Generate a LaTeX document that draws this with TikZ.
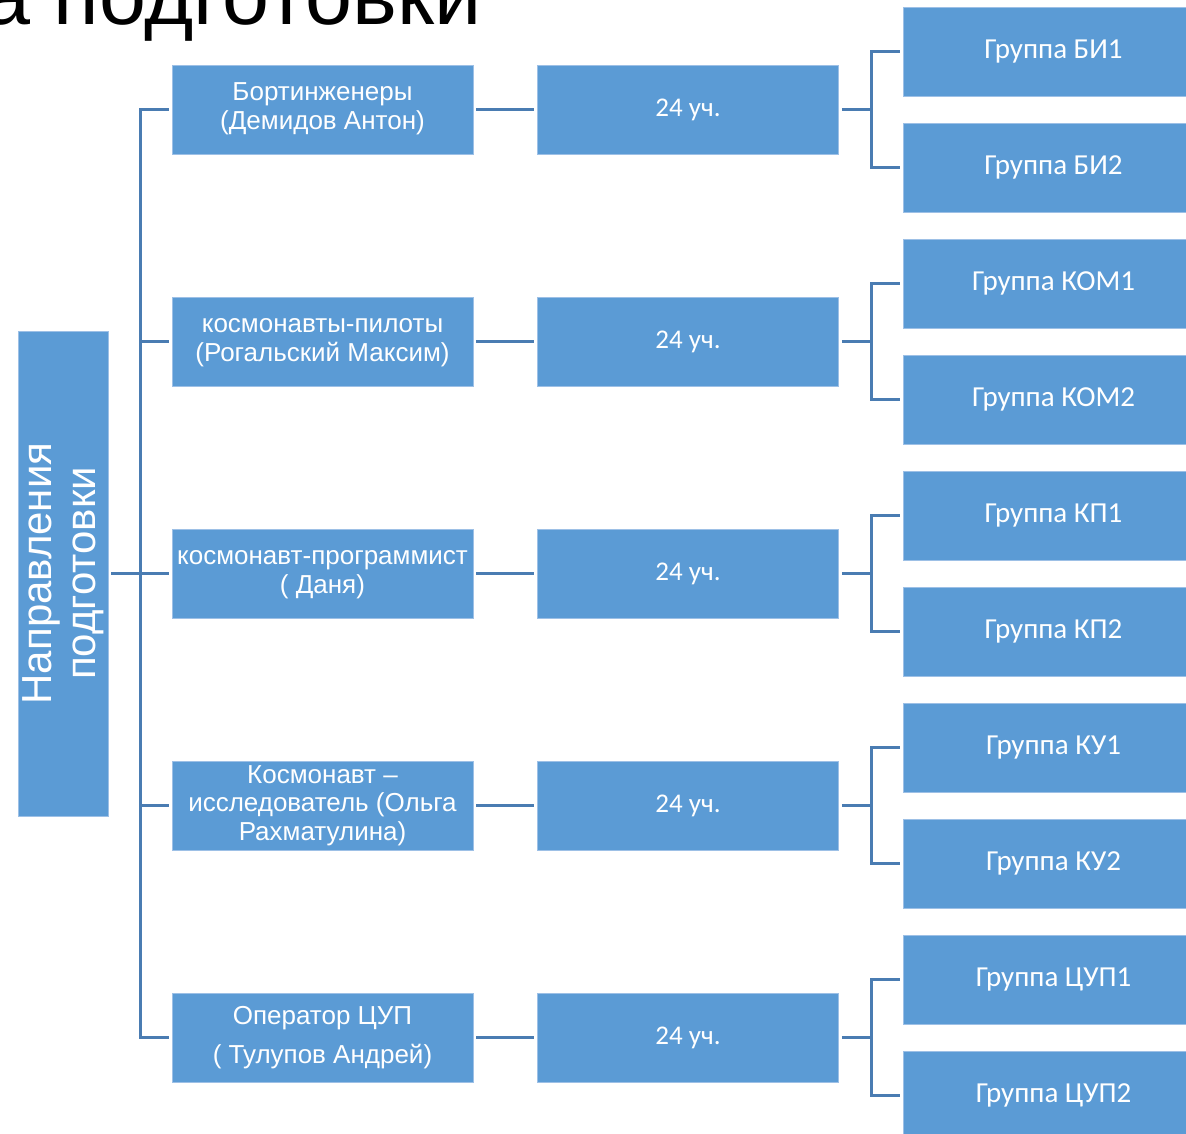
\documentclass[tikz,border=0pt]{standalone}
\usepackage{fontspec}
\setmainfont{Liberation Sans}
\newfontfamily\calib{Carlito}
\definecolor{boxblue}{HTML}{5B9BD5}
\definecolor{edgeblue}{HTML}{9DC0E6}
\definecolor{lineblue}{HTML}{4A7CB2}
\begin{document}
\begin{tikzpicture}[x=1pt,y=-1pt,
  bx/.style={fill=boxblue,draw=edgeblue,line width=0.8pt,inner sep=0pt,
    text=white,align=center,minimum width=301pt,minimum height=89pt},
  dirbox/.style={bx,font=\fontsize{26}{28.5}\selectfont},
  cntbox/.style={bx,font=\calib\fontsize{27}{30}\selectfont},
  grpbox/.style={bx,font=\calib\fontsize{29}{32}\selectfont},
  conn/.style={draw=lineblue,line width=3pt,line join=miter},
]
\useasboundingbox (0,0) rectangle (1186,1134);
\clip (0,0) rectangle (1186,1134);

% title (cut off at the top)
\node[anchor=base east,inner sep=0pt,font=\fontsize{84.5}{90}\selectfont] (title) at (482,25) {а подготовки};

% root
\node[bx,minimum width=485pt,minimum height=90pt,rotate=90,
  font=\fontsize{42}{44}\selectfont] (root) at (63,573.5) {Направления\\подготовки};

% directions
\node[dirbox] (d1) at (322.5,109.5) {\raisebox{-2pt}{\begin{tabular}{@{}c@{}}Бортинженеры\\(Демидов Антон)\end{tabular}}};
\node[dirbox] (d2) at (322.5,341.5) {\raisebox{-2pt}{\begin{tabular}{@{}c@{}}космонавты-пилоты\\(Рогальский Максим)\end{tabular}}};
\node[dirbox] (d3) at (322.5,573.5) {\raisebox{-2pt}{\begin{tabular}{@{}c@{}}космонавт-программист\\( Даня)\end{tabular}}};
\node[dirbox] (d4) at (322.5,805.5) {Космонавт –\\исследователь (Ольга\\Рахматулина)};
\node[dirbox] (d5) at (322.5,1037.5) {Оператор ЦУП\\[10pt]( Тулупов Андрей)};

% counts
\foreach \i/\y in {1/109.5,2/341.5,3/573.5,4/805.5,5/1037.5}{
  \node[cntbox] (u\i) at (688,\y) {24 уч.};
}

% groups
\node[grpbox] (g11) at (1053.5,51.5) {Группа БИ1};
\node[grpbox] (g12) at (1053.5,167.5) {Группа БИ2};
\node[grpbox] (g21) at (1053.5,283.5) {Группа КОМ1};
\node[grpbox] (g22) at (1053.5,399.5) {Группа КОМ2};
\node[grpbox] (g31) at (1053.5,515.5) {Группа КП1};
\node[grpbox] (g32) at (1053.5,631.5) {Группа КП2};
\node[grpbox] (g41) at (1053.5,747.5) {Группа КУ1};
\node[grpbox] (g42) at (1053.5,863.5) {Группа КУ2};
\node[grpbox] (g51) at (1053.5,979.5) {Группа ЦУП1};
\node[grpbox] (g52) at (1053.5,1095.5) {Группа ЦУП2};

% trunk
\coordinate (trunk) at (140,573.5);
\coordinate (fork) at (871,0);
\draw[conn,shorten <=3pt,shorten >=3pt] (d1.west) -- (d1.west -| trunk) -- (d5.west -| trunk) -- (d5.west);
\draw[conn,shorten <=3pt] (root.south) -- (root.south -| trunk);
\foreach \i in {2,3,4}{
  \draw[conn,shorten >=3pt] (d\i.west -| trunk) -- (d\i.west);
}
\foreach \i in {1,...,5}{
  \draw[conn,shorten <=3pt,shorten >=3pt] (d\i.east) -- (u\i.west);
  \draw[conn,shorten <=3pt] (u\i.east) -- (u\i.east -| fork);
  \draw[conn,shorten <=3pt,shorten >=3pt] (g\i1.west) -- (g\i1.west -| fork) -- (g\i2.west -| fork) -- (g\i2.west);
}
\end{tikzpicture}
\end{document}
